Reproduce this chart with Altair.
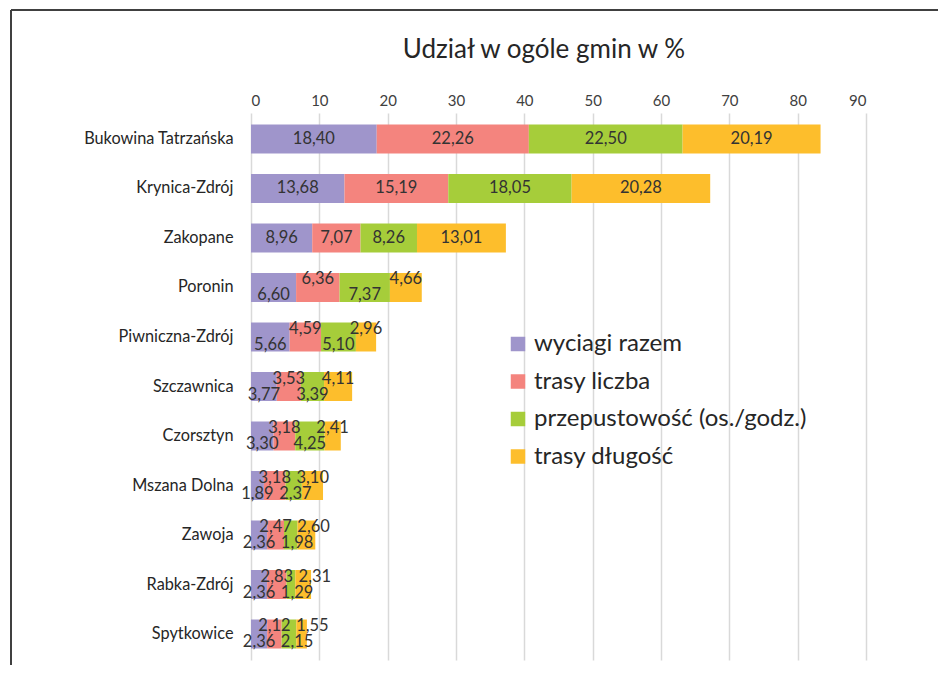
import altair as alt
import pandas as pd

gminy = ["Bukowina Tatrzańska", "Krynica-Zdrój", "Zakopane", "Poronin",
         "Piwniczna-Zdrój", "Szczawnica", "Czorsztyn", "Mszana Dolna",
         "Zawoja", "Rabka-Zdrój", "Spytkowice"]
series = ["wyciagi razem", "trasy liczba", "przepustowość (os./godz.)", "trasy długość"]
wyciagi_razem = [18.40, 13.68, 8.96, 6.60, 5.66, 3.77, 3.30, 1.89, 2.36, 2.36, 2.36]
trasy_liczba = [22.26, 15.19, 7.07, 6.36, 4.59, 3.53, 3.18, 3.18, 2.47, 2.83, 2.12]
przepustowosc = [22.50, 18.05, 8.26, 7.37, 5.10, 3.39, 4.25, 2.37, 1.98, 1.29, 2.15]
trasy_dlugosc = [20.19, 20.28, 13.01, 4.66, 2.96, 4.11, 2.41, 3.10, 2.60, 2.31, 1.55]
x_ticks = [0, 10, 20, 30, 40, 50, 60, 70, 80, 90]
colors = ["#9F95CB", "#F4847E", "#A6CD3A", "#FDBE2C"]
title_text = "Udział w ogóle gmin w %"

FONT = "Lato"
W, H = 615, 547
UNIT_PX = W / 90.0
MIN_SEP = 38 / UNIT_PX  # minimal label centre distance (data units) on one level

values = [wyciagi_razem, trasy_liczba, przepustowosc, trasy_dlugosc]
rows = []
for i, g in enumerate(gminy):
    start = 0.0
    total = sum(v[i] for v in values)
    last_on_level = {}
    for j, s in enumerate(series):
        v = values[j][i]
        mid = start + v / 2
        if total >= 30:
            pos = "c"
            lab_x = mid
        else:
            pos = "down" if j % 2 == 0 else "up"
            lab_x = mid
            if pos in last_on_level:
                lab_x = max(mid, last_on_level[pos] + MIN_SEP)
            last_on_level[pos] = lab_x
        rows.append(dict(gmina=g, seria=s, order=j, start=start, end=start + v,
                         lab_x=lab_x, label=f"{v:.2f}".replace(".", ","), pos=pos))
        start += v
df = pd.DataFrame(rows)

base = alt.Chart(df)
yenc = alt.Y("gmina:N", sort=gminy,
             scale=alt.Scale(paddingInner=0.414, paddingOuter=0.232),
             axis=alt.Axis(title=None, domain=False, ticks=False, labelPadding=18,
                           labelFontSize=16.3, labelColor="#262626", labelFont=FONT))
bars = base.mark_bar().encode(
    x=alt.X("start:Q", scale=alt.Scale(domain=[0, 90], nice=False),
            axis=alt.Axis(orient="top", values=x_ticks, title=None, domain=False, ticks=False,
                          grid=True, gridColor="#D9D9D9", gridWidth=1.5, labelPadding=5,
                          labelFontSize=15, labelColor="#404040", labelFont=FONT)),
    x2="end:Q",
    y=yenc,
    color=alt.Color("seria:N", sort=series,
                    scale=alt.Scale(domain=series, range=colors),
                    legend=alt.Legend(title=None, orient="none", legendX=255, legendY=219,
                                      symbolType="square", symbolSize=210, symbolStrokeWidth=0,
                                      labelFontSize=24, labelColor="#262626", labelFont=FONT,
                                      labelLimit=0, rowPadding=13.5, labelOffset=4)),
)

def labels(p, dy):
    return base.transform_filter(alt.datum.pos == p).mark_text(
        dy=dy, fontSize=16.5, color="#333333", font=FONT
    ).encode(x="lab_x:Q", y=alt.Y("gmina:N", sort=gminy), text="label:N")

one = alt.Chart(pd.DataFrame({"t": [title_text]}))
title = one.mark_text(fontSize=26, color="#262626", font=FONT, baseline="middle",
                      align="center").encode(x=alt.value(293), y=alt.value(-63), text="t:N")
frame_v = one.mark_rule(color="#404040", strokeWidth=2).encode(
    x=alt.value(-240), y=alt.value(-103), y2=alt.value(H + 10))
frame_h = one.mark_rule(color="#404040", strokeWidth=2).encode(
    x=alt.value(-240), x2=alt.value(W + 80), y=alt.value(-103))

chart = alt.layer(bars, labels("c", 0), labels("up", -8), labels("down", 8),
                  title, frame_v, frame_h).properties(
    width=W, height=H,
    autosize=alt.AutoSizeParams(type="none"),
    padding={"left": 243, "top": 105, "right": 72, "bottom": 5},
).configure_view(stroke=None)

chart.save("out.html", embed_options={"renderer": "svg", "actions": False})
